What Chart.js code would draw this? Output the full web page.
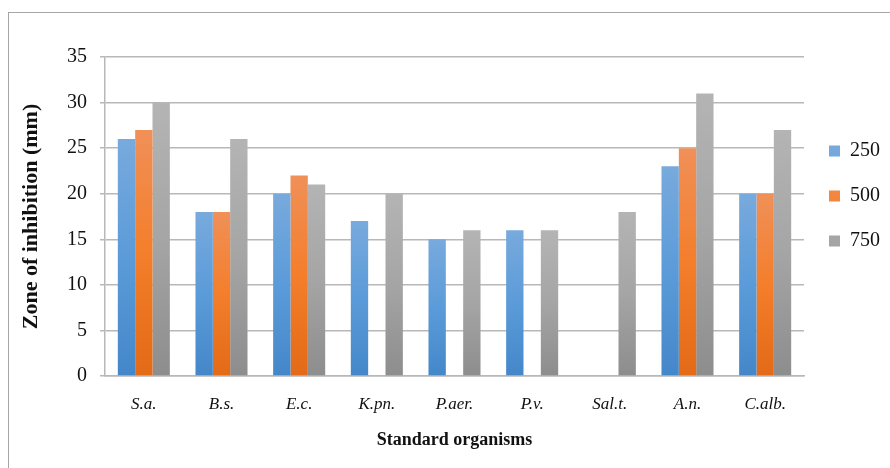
<!DOCTYPE html>
<html>
<head>
<meta charset="utf-8">
<script src="https://cdn.jsdelivr.net/npm/chart.js@4"></script>
<style>
  html, body { margin: 0; padding: 0; background: #fff; }
  #frame { position: absolute; left: 8px; top: 12px; width: 900px; height: 470px;
           border-left: 1px solid #a6a6a6; border-top: 1px solid #a6a6a6; }
  #wrap { position: absolute; left: 0; top: 0; width: 890px; height: 468px; }
</style>
</head>
<body>
<div id="frame"></div>
<div id="wrap"><canvas id="zoneChart"></canvas></div>
<script>
// organisms on x axis, one series per concentration
const organisms = ['S.a.', 'B.s.', 'E.c.', 'K.pn.', 'P.aer.', 'P.v.', 'Sal.t.', 'A.n.', 'C.alb.'];
const seriesNames = ['250', '500', '750'];
const conc250 = [26, 18, 20, 17, 15, 16, 0, 23, 20];
const conc500 = [27, 18, 22, 0, 0, 0, 0, 25, 20];
const conc750 = [30, 26, 21, 20, 16, 16, 18, 31, 27];
const yTicks = [0, 5, 10, 15, 20, 25, 30, 35];

const serif = "'Liberation Serif', 'Times New Roman', serif";

// top / middle / bottom colour of each bar's gradient
const shades = [
    ['#78aadd', '#5b9bd9', '#4487c9'],
    ['#f09058', '#f47e2b', '#e36a17'],
    ['#b4b4b4', '#a5a5a5', '#8d8d8d']
];

// vertical gradient per bar, light at top, darker at bottom
function barFill(idx) {
    return (ctx) => {
        const chart = ctx.chart;
        const y = chart.scales && chart.scales.y;
        const v = ctx.raw;
        if (!chart.chartArea || !y || typeof v !== 'number') return shades[idx][1];
        const top = y.getPixelForValue(v);
        const bottom = y.getPixelForValue(0);
        if (bottom - top < 1) return shades[idx][1];
        const g = chart.ctx.createLinearGradient(0, top, 0, bottom);
        g.addColorStop(0, shades[idx][0]);
        g.addColorStop(0.5, shades[idx][1]);
        g.addColorStop(1, shades[idx][2]);
        return g;
    };
}

const values = [conc250, conc500, conc750];
const datasets = seriesNames.map((name, i) => ({
    label: name,
    data: values[i],
    backgroundColor: barFill(i),
    borderWidth: 0,
    categoryPercentage: 0.67,
    barPercentage: 1.0
}));

new Chart(document.getElementById('zoneChart').getContext('2d'), {
    type: 'bar',
    data: { labels: organisms, datasets },
    options: {
        responsive: true,
        maintainAspectRatio: false,
        animation: false,
        layout: { padding: { top: 57, right: 0, bottom: 17, left: 12 } },
        plugins: {
            tooltip: { enabled: false },
            legend: {
                position: 'right',
                align: 'start',
                title: { display: true, text: '', font: { size: 10 }, padding: { top: 47, bottom: 0 } },
                labels: {
                    boxWidth: 11,
                    boxHeight: 11,
                    padding: 25,
                    color: '#111',
                    font: { family: serif, size: 20 }
                }
            }
        },
        scales: {
            x: {
                grid: { display: false, drawTicks: false },
                border: { display: true, color: '#b8b8b8', width: 1.5 },
                ticks: {
                    color: '#111',
                    padding: 18,
                    font: { family: serif, size: 17, style: 'italic' }
                },
                title: {
                    display: true,
                    text: 'Standard organisms',
                    color: '#111',
                    padding: 0,
                    font: { family: serif, size: 18, weight: 'bold' }
                },
                afterFit: (scale) => { scale.height = 75; }
            },
            y: {
                min: 0,
                max: 35,
                afterBuildTicks: (scale) => { scale.ticks = yTicks.map(v => ({ value: v })); },
                grid: { color: '#b8b8b8', lineWidth: 1.5, tickLength: 5 },
                border: { display: true, color: '#b8b8b8', width: 1.5 },
                ticks: {
                    color: '#111',
                    padding: 13,
                    font: { family: serif, size: 20 }
                },
                title: {
                    display: true,
                    text: 'Zone of inhibition (mm)',
                    color: '#111',
                    padding: { top: 6, bottom: 0 },
                    font: { family: serif, size: 22, weight: 'bold' }
                },
                afterFit: (scale) => { scale.width = 93; }
            }
        }
    }
});
</script>
</body>
</html>
